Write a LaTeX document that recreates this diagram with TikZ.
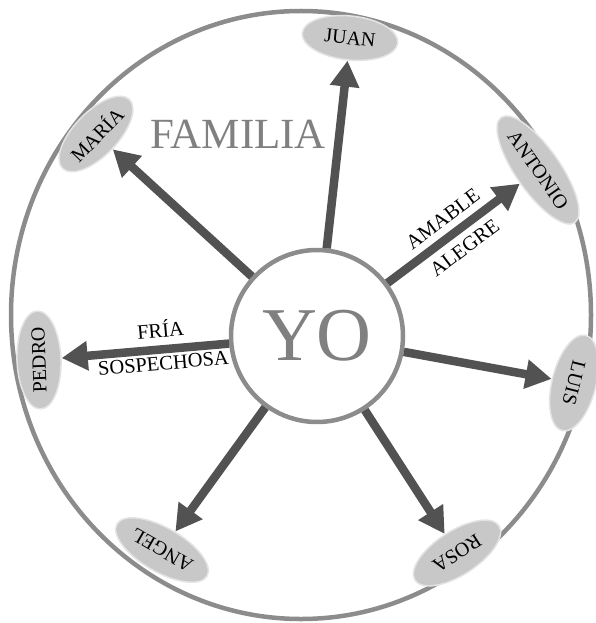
\documentclass[tikz,border=0pt]{standalone}
\usepackage{fontspec}
\setmainfont{Liberation Serif}
\usetikzlibrary{shapes.geometric,arrows.meta}
\definecolor{ringgray}{RGB}{140,140,140}
\definecolor{textgray}{RGB}{128,128,128}
\definecolor{arrowgray}{RGB}{82,82,82}
\definecolor{ellfill}{RGB}{200,200,200}
\definecolor{ellrim}{RGB}{228,228,228}
\begin{document}
\begin{tikzpicture}[x=1pt,y=-1pt,
  person/.style={ellipse, fill=ellfill, draw=ellrim, line width=1.5pt, minimum height=44pt, inner sep=0pt, font=\fontsize{20}{24}\selectfont},
  link/.style={line width=8.5pt, draw=arrowgray, -{Triangle[width=28pt,length=26pt]}},
  lbl/.style={font=\fontsize{20.5}{24}\selectfont, inner sep=5pt}]
\useasboundingbox (0,0) rectangle (596,623);
\draw[ringgray, line width=4.5pt] (301,315) ellipse [x radius=290pt, y radius=304pt];
\node[person, minimum width=96pt, rotate=-6] (juan) at (350,38) {JUAN};
\node[person, minimum width=96pt, rotate=46] (maria) at (96,134) {MARÍA};
\node[person, minimum width=116pt, rotate=-55] (antonio) at (538,170) {ANTONIO};
\node[person, minimum width=98pt, rotate=92] (pedro) at (39,360) {PEDRO};
\node[person, minimum width=98pt, rotate=-104] (luis) at (574,383) {LUIS};
\node[person, minimum width=104pt, rotate=150] (angel) at (162,550) {ANGEL};
\node[person, minimum width=100pt, rotate=213] (rosa) at (457,553) {ROSA};
\node[circle, draw=ringgray, line width=4.5pt, fill=white, minimum size=172pt, inner sep=0pt, text=textgray, font=\fontsize{76}{80}\selectfont] (yo) at (317,336) {YO};
\node[text=textgray, font=\fontsize{43}{47}\selectfont] (familia) at (238,134) {FAMILIA};
\draw[link] (yo) -- (juan);
\draw[link] (yo) -- (maria);
\draw[link] (yo) -- node[lbl, sloped, above=2pt]{AMABLE} node[lbl, sloped, below=2pt]{ALEGRE} (antonio);
\draw[link] (yo) -- (pedro);
\path (pedro) -- node[lbl, pos=0.6, sloped, above=7pt]{FRÍA} node[lbl, pos=0.6, sloped, below=2pt]{SOSPECHOSA} (yo);
\draw[link] (yo) -- (luis);
\draw[link] (yo) -- (angel);
\draw[link] (yo) -- (rosa);
\end{tikzpicture}
\end{document}
